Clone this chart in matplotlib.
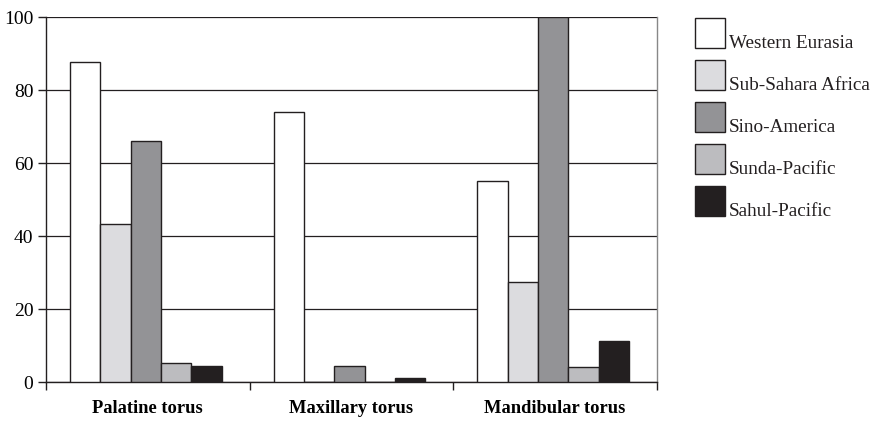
import matplotlib
matplotlib.use("Agg")
import matplotlib.pyplot as plt
import matplotlib.patches as mpatches
import numpy as np

plt.rcParams['font.family'] = ['Liberation Serif', 'DejaVu Serif']

categories = ['Palatine torus', 'Maxillary torus', 'Mandibular torus']
regions = ['Western Eurasia', 'Sub-Sahara Africa', 'Sino-America', 'Sunda-Pacific', 'Sahul-Pacific']

western_eurasia = [87.8, 73.9, 55.0]
sub_sahara_africa = [43.4, 0.0, 27.3]
sino_america = [66.0, 4.5, 100.0]
sunda_pacific = [5.1, 0.0, 4.1]
sahul_pacific = [4.4, 1.0, 11.2]

series = [western_eurasia, sub_sahara_africa, sino_america, sunda_pacific, sahul_pacific]
colors = ['#ffffff', '#dcdcdf', '#939396', '#bcbcbf', '#231f20']
edge = '#231f20'

fig = plt.figure(figsize=(8.76, 4.21), dpi=100)
ax = fig.add_axes([0.0525, 0.0926, 0.6975, 0.867])

w = 0.149
x = np.arange(len(categories)) + 0.49
for j, (vals, c) in enumerate(zip(series, colors)):
    ax.bar(x + (j - 2) * w, vals, width=w, color=c, edgecolor=edge, linewidth=1.0, zorder=3)

ax.set_xlim(0, len(categories))
ax.set_ylim(0, 100)
ax.set_yticks(range(0, 101, 20))
ax.yaxis.grid(True, color='#231f20', linewidth=0.9, zorder=0)

# category boundaries as ticks, names in between
ax.set_xticks(range(len(categories) + 1))
ax.set_xticklabels([])
ax.set_xticks(np.arange(len(categories)) + 0.5, minor=True)
ax.set_xticklabels(categories, minor=True, fontweight='bold', fontsize=13.3)
ax.tick_params(axis='x', which='minor', length=0, pad=13)
ax.tick_params(axis='x', which='major', length=6, width=1, color=edge, direction='out')
ax.tick_params(axis='y', length=6, width=1, color=edge, labelsize=14, pad=3)

for s in ['left', 'bottom']:
    ax.spines[s].set_color(edge)
    ax.spines[s].set_linewidth(1)
ax.spines['top'].set_visible(False)
ax.spines['right'].set_color('#888888')
ax.spines['right'].set_linewidth(1)

# legend boxes drawn by hand, text sits at the lower right of each box
W, H = 876, 421
for i, (name, c) in enumerate(zip(regions, colors)):
    top = 18 + i * 42
    fig.add_artist(mpatches.Rectangle((695 / W, 1 - (top + 30) / H), 30 / W, 30 / H,
                                      transform=fig.transFigure, facecolor=c,
                                      edgecolor=edge, linewidth=1))
    fig.text(729 / W, 1 - (top + 25) / H, name, fontsize=13.8, va='center', ha='left', color=edge)

fig.savefig('out.png', dpi=100)
